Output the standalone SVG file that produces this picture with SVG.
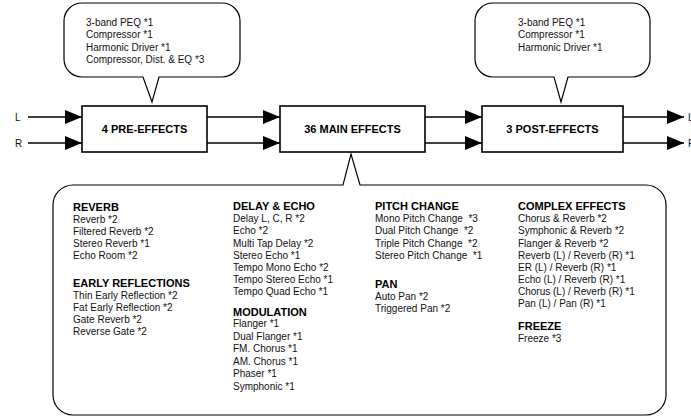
<svg xmlns="http://www.w3.org/2000/svg" width="691" height="417" viewBox="0 0 691 417">
<style>
.box{fill:#fff;stroke:#000;stroke-width:1.6}
.call{fill:#fff;stroke:#000;stroke-width:1.2;stroke-linejoin:miter}
.wire{stroke:#000;stroke-width:1.6;fill:none}
.t{font-family:"Liberation Sans",Arial,sans-serif;font-size:10px;fill:#111}
.h{font-family:"Liberation Sans",Arial,sans-serif;font-size:11px;font-weight:bold;fill:#000}
.bl{font-family:"Liberation Sans",Arial,sans-serif;font-size:11px;font-weight:bold;fill:#000;text-anchor:middle}
</style>
<defs>
<marker id="arr" markerUnits="userSpaceOnUse" markerWidth="18" markerHeight="14" refX="17" refY="7" orient="auto">
<path d="M0,0 L17,7 L0,14 Z" fill="#000"/>
</marker>
</defs>
<g id="connectors">
<path class="wire" d="M28,117 H82" marker-end="url(#arr)"/>
<path class="wire" d="M28,143 H82" marker-end="url(#arr)"/>
<path class="wire" d="M207,117 H280" marker-end="url(#arr)"/>
<path class="wire" d="M207,143 H280" marker-end="url(#arr)"/>
<path class="wire" d="M425,117 H482" marker-end="url(#arr)"/>
<path class="wire" d="M425,143 H482" marker-end="url(#arr)"/>
<path class="wire" d="M623,117 H684" marker-end="url(#arr)"/>
<path class="wire" d="M623,143 H684" marker-end="url(#arr)"/>
</g>
<g id="io-labels">
<text class="t" x="15" y="121">L</text>
<text class="t" x="15" y="147">R</text>
<text class="t" x="688" y="121">L</text>
<text class="t" x="688" y="147">R</text>
</g>
<g id="pre-effects">
<rect class="box" x="82" y="106" width="125" height="46"/>
<text class="bl" x="144.5" y="133">4 PRE-EFFECTS</text>
</g>
<g id="main-effects">
<rect class="box" x="280" y="106" width="145" height="46"/>
<text class="bl" x="352.5" y="133">36 MAIN EFFECTS</text>
</g>
<g id="post-effects">
<rect class="box" x="482" y="106" width="141" height="46"/>
<text class="bl" x="552.5" y="133">3 POST-EFFECTS</text>
</g>
<g id="pre-callout">
<path class="call" d="M82,3 H222 A18,18 0 0 1 240,21 V59 A18,18 0 0 1 222,77 H159 L152,102 L143,77 H82 A18,18 0 0 1 64,59 V21 A18,18 0 0 1 82,3 Z"/>
<text class="t" x="86" y="25.5">3-band PEQ *1</text>
<text class="t" x="86" y="38">Compressor *1</text>
<text class="t" x="86" y="50.5">Harmonic Driver *1</text>
<text class="t" x="86" y="63">Compressor, Dist. &amp; EQ *3</text>
</g>
<g id="post-callout">
<path class="call" d="M493,3 H632 A18,18 0 0 1 650,21 V59 A18,18 0 0 1 632,77 H568 L561,102 L554,77 H493 A18,18 0 0 1 475,59 V21 A18,18 0 0 1 493,3 Z"/>
<text class="t" x="518" y="25.5">3-band PEQ *1</text>
<text class="t" x="518" y="38">Compressor *1</text>
<text class="t" x="518" y="50.5">Harmonic Driver *1</text>
</g>
<g id="main-callout">
<path class="call" d="M73,185 H343 L351,154 L360,185 H646 A20,20 0 0 1 666,205 V395 A20,20 0 0 1 646,415 H73 A20,20 0 0 1 53,395 V205 A20,20 0 0 1 73,185 Z"/>
<g id="col-reverb">
<text class="h" x="73" y="211">REVERB</text>
<text class="t" x="73" y="223">Reverb *2</text>
<text class="t" x="73" y="235">Filtered Reverb *2</text>
<text class="t" x="73" y="247">Stereo Reverb *1</text>
<text class="t" x="73" y="259">Echo Room *2</text>
<text class="h" x="73" y="287">EARLY REFLECTIONS</text>
<text class="t" x="73" y="299">Thin Early Reflection *2</text>
<text class="t" x="73" y="311">Fat Early Reflection *2</text>
<text class="t" x="73" y="323">Gate Reverb *2</text>
<text class="t" x="73" y="335">Reverse Gate *2</text>
</g>
<g id="col-delay">
<text class="h" x="233" y="210">DELAY &amp; ECHO</text>
<text class="t" x="233" y="222">Delay L, C, R *2</text>
<text class="t" x="233" y="234">Echo *2</text>
<text class="t" x="233" y="246.5">Multi Tap Delay *2</text>
<text class="t" x="233" y="258.5">Stereo Echo *1</text>
<text class="t" x="233" y="270.5">Tempo Mono Echo *2</text>
<text class="t" x="233" y="282.5">Tempo Stereo Echo *1</text>
<text class="t" x="233" y="294.5">Tempo Quad Echo *1</text>
<text class="h" x="233" y="315.5">MODULATION</text>
<text class="t" x="233" y="327">Flanger *1</text>
<text class="t" x="233" y="339.5">Dual Flanger *1</text>
<text class="t" x="233" y="352">FM. Chorus *1</text>
<text class="t" x="233" y="364.5">AM. Chorus *1</text>
<text class="t" x="233" y="377">Phaser *1</text>
<text class="t" x="233" y="389.5">Symphonic *1</text>
</g>
<g id="col-pitch">
<text class="h" x="375" y="210">PITCH CHANGE</text>
<text class="t" x="375" y="222" xml:space="preserve">Mono Pitch Change  *3</text>
<text class="t" x="375" y="234" xml:space="preserve">Dual Pitch Change  *2</text>
<text class="t" x="375" y="246.5" xml:space="preserve">Triple Pitch Change  *2</text>
<text class="t" x="375" y="258.5" xml:space="preserve">Stereo Pitch Change  *1</text>
<text class="h" x="375" y="287.5">PAN</text>
<text class="t" x="375" y="300">Auto Pan *2</text>
<text class="t" x="375" y="312">Triggered Pan *2</text>
</g>
<g id="col-complex">
<text class="h" x="518" y="210">COMPLEX EFFECTS</text>
<text class="t" x="518" y="222">Chorus &amp; Reverb *2</text>
<text class="t" x="518" y="234">Symphonic &amp; Reverb *2</text>
<text class="t" x="518" y="246.5">Flanger &amp; Reverb *2</text>
<text class="t" x="518" y="258.5">Reverb (L) / Reverb (R) *1</text>
<text class="t" x="518" y="270.5">ER (L) / Reverb (R) *1</text>
<text class="t" x="518" y="282.5">Echo (L) / Reverb (R) *1</text>
<text class="t" x="518" y="294.5">Chorus (L) / Reverb (R) *1</text>
<text class="t" x="518" y="306.5">Pan (L) / Pan (R) *1</text>
<text class="h" x="518" y="329.5">FREEZE</text>
<text class="t" x="518" y="341.5">Freeze *3</text>
</g>
</g>
</svg>
